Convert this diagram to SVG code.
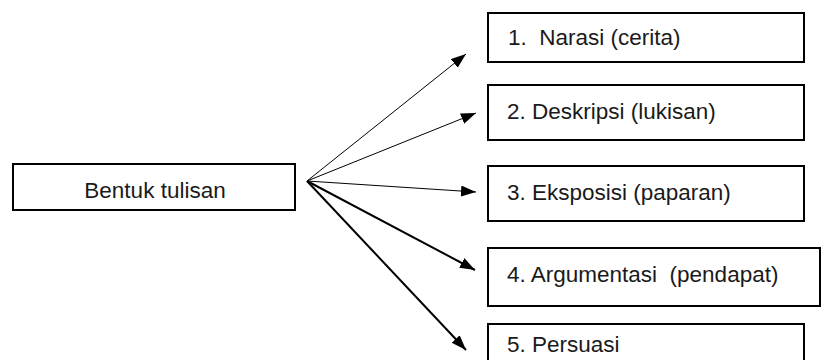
<svg xmlns="http://www.w3.org/2000/svg" width="821" height="360" viewBox="0 0 821 360">
  <style>
    .box { fill: #ffffff; stroke: #000000; stroke-width: 2; }
    .label { font-family: "Liberation Sans", Arial, sans-serif; font-size: 22.5px; fill: #1a1a1a; white-space: pre; }
    .thin { stroke: #000000; stroke-width: 1; fill: none; }
    .thick { stroke: #000000; stroke-width: 2; fill: none; }
  </style>
  <defs>
    <marker id="head" markerUnits="userSpaceOnUse" markerWidth="16" markerHeight="12" refX="15" refY="5.5" orient="auto">
      <path d="M0,0 L15,5.5 L0,11 z" fill="#000000"/>
    </marker>
  </defs>
  <rect width="821" height="360" fill="#ffffff"/>

  <g id="connectors">
    <line class="thin" x1="307" y1="181" x2="466" y2="54" marker-end="url(#head)"/>
    <line class="thin" x1="307" y1="181" x2="476" y2="113" marker-end="url(#head)"/>
    <line class="thin" x1="307" y1="181" x2="476" y2="192" marker-end="url(#head)"/>
    <line class="thick" x1="307" y1="181" x2="475" y2="270" marker-end="url(#head)"/>
    <line class="thick" x1="307" y1="181" x2="466" y2="350" marker-end="url(#head)"/>
  </g>

  <g id="bentuk-tulisan">
    <rect class="box" x="13" y="164" width="282" height="46"/>
    <text class="label" x="155" y="198" text-anchor="middle">Bentuk tulisan</text>
  </g>

  <g id="narasi">
    <rect class="box" x="488" y="13" width="316" height="49"/>
    <text class="label" x="508" y="45">1.  Narasi (cerita)</text>
  </g>

  <g id="deskripsi">
    <rect class="box" x="488" y="85" width="316" height="55"/>
    <text class="label" x="507" y="119">2. Deskripsi (lukisan)</text>
  </g>

  <g id="eksposisi">
    <rect class="box" x="488" y="166" width="316" height="55"/>
    <text class="label" x="507" y="200">3. Eksposisi (paparan)</text>
  </g>

  <g id="argumentasi">
    <rect class="box" x="488" y="248" width="332" height="58"/>
    <text class="label" x="507" y="282">4. Argumentasi  (pendapat)</text>
  </g>

  <g id="persuasi">
    <rect class="box" x="488" y="324" width="316" height="50"/>
    <text class="label" x="507" y="352">5. Persuasi</text>
  </g>
</svg>
